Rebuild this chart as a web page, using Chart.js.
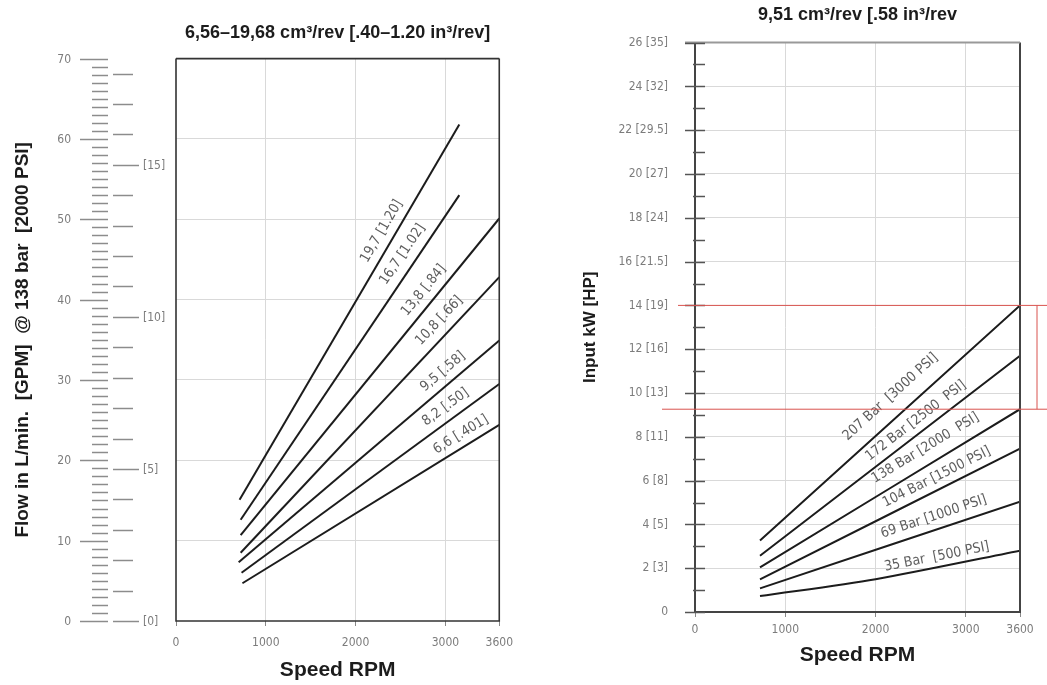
<!DOCTYPE html>
<html>
<head>
<meta charset="utf-8">
<script src="https://cdn.jsdelivr.net/npm/chart.js@4/dist/chart.umd.min.js"></script>
<style>
  body { margin: 0; background: #fff; }
  #wrap { position: relative; width: 1047px; height: 685px; overflow: hidden; }
  canvas { position: absolute; top: 0; }
  #flowChart { left: 0; }
  #powerChart { left: 520px; }
</style>
</head>
<body>
<div id="wrap">
  <canvas id="flowChart" width="523" height="685"></canvas>
  <canvas id="powerChart" width="527" height="685"></canvas>
</div>
<script>
// ---- left panel: flow vs speed, one line per displacement
const flowLabels   = ['19,7 [1.20]', '16,7 [1.02]', '13,8 [.84]', '10,8 [.66]', '9,5 [.58]', '8,2 [.50]', '6,6 [.401]'];
const flowRpmStart = [708, 720, 720, 720, 698, 730, 740];
const flowStart    = [15.1, 12.6, 10.7, 8.5, 7.3, 6.0, 4.7];
const flowRpmEnd   = [3155, 3155, 3600, 3600, 3600, 3600, 3600];
const flowEnd      = [61.8, 53.0, 50.1, 42.8, 34.9, 29.5, 24.4];
const flowLabelRpm = [2416, 2653, 2872, 3045, 3066, 3088, 3242];

const speedTicks = [0, 1000, 2000, 3000, 3600];
const flowTicks  = [0, 10, 20, 30, 40, 50, 60, 70];
const gpmTicks   = [0, 5, 10, 15];
const GPM_MAX    = 18;
const L_PER_GAL  = 3.785;

// ---- right panel: input power vs speed, one line per pressure
const powerLabels   = ['207 Bar  [3000 PSI]', '172 Bar [2500  PSI]', '138 Bar [2000  PSI]', '104 Bar [1500 PSI]', '69 Bar [1000 PSI]', '35 Bar  [500 PSI]'];
const powerRpm      = [720, 3600];
const kw207         = [3.26, 14.0];
const kw172         = [2.57, 11.7];
const kw138         = [2.04, 9.26];
const kw104         = [1.49, 7.46];
const kw69          = [1.08, 5.04];
const kw35Rpm       = [720, 2000, 3600];
const kw35          = [0.73, 1.5, 2.80];
const powerLabelRpm = [2307, 2527, 2644, 2737, 2691, 2700];
const kwTickLabels  = ['0', '2 [3]', '4 [5]', '6 [8]', '8 [11]', '10 [13]', '12 [16]', '14 [19]', '16 [21.5]', '18 [24]', '20 [27]', '22 [29.5]', '24 [32]', '26 [35]'];
const kwMarks       = [14, 9.26];

const BOLD   = "'Liberation Sans', Arial, sans-serif";
const NARROW = "'Liberation Sans Narrow', 'DejaVu Sans Condensed', 'Liberation Sans', sans-serif";
const INK    = '#1c1c1c';
const GREY   = '#7c7c7c';
const GRID   = '#d9d9d9';

const pts = (xs, ys) => xs.map((v, i) => ({ x: v, y: ys[i] }));

// labels written along each curve
const lineLabels = {
  id: 'lineLabels',
  afterDatasetsDraw(chart, args, opts) {
    const { ctx, scales: { x, y } } = chart;
    ctx.save();
    ctx.font = opts.font;
    ctx.fillStyle = opts.color;
    ctx.textAlign = 'center';
    ctx.textBaseline = 'middle';
    chart.data.datasets.forEach((ds, i) => {
      const at = opts.at[i];
      const d = ds.data;
      let k = 0;
      while (k < d.length - 2 && d[k + 1].x < at) k++;
      const x1 = x.getPixelForValue(d[k].x), y1 = y.getPixelForValue(d[k].y);
      const x2 = x.getPixelForValue(d[k + 1].x), y2 = y.getPixelForValue(d[k + 1].y);
      const t = (at - d[k].x) / (d[k + 1].x - d[k].x);
      const ang = Math.atan2(y2 - y1, x2 - x1);
      const off = opts.offset[i];
      const cx = x1 + t * (x2 - x1) + Math.sin(ang) * off;
      const cy = y1 + t * (y2 - y1) - Math.cos(ang) * off;
      ctx.save();
      ctx.translate(cx, cy);
      ctx.rotate(ang);
      ctx.fillText(ds.label, 0, 0);
      ctx.restore();
    });
    ctx.restore();
  }
};

const frame = {
  id: 'frame',
  afterDraw(chart, args, opts) {
    const { ctx, chartArea: a } = chart;
    ctx.save();
    ctx.lineWidth = opts.width;
    ctx.strokeStyle = opts.color;
    ctx.beginPath();
    ctx.moveTo(a.left, a.top); ctx.lineTo(a.left, a.bottom);
    ctx.lineTo(a.right, a.bottom); ctx.lineTo(a.right, a.top);
    ctx.stroke();
    ctx.strokeStyle = opts.topColor || opts.color;
    ctx.beginPath();
    ctx.moveTo(a.left - (opts.topExtend || 0), a.top); ctx.lineTo(a.right, a.top);
    ctx.stroke();
    ctx.restore();
  }
};

// the L/min + GPM ladder left of the flow plot
const flowLadder = {
  id: 'flowLadder',
  afterDraw(chart) {
    const { ctx, scales: { y } } = chart;
    ctx.save();
    ctx.strokeStyle = '#8c8c8c';
    ctx.lineWidth = 1.5;
    ctx.fillStyle = GREY;
    ctx.font = '12px ' + NARROW;
    ctx.textBaseline = 'middle';
    for (let v = 0; v <= 70; v++) {
      const py = Math.round(y.getPixelForValue(v)) + 0.5;
      const major = flowTicks.includes(v);
      ctx.beginPath();
      ctx.moveTo(major ? 80 : 92, py); ctx.lineTo(108, py);
      ctx.stroke();
      if (major) { ctx.textAlign = 'right'; ctx.fillText(String(v), 71, py); }
    }
    for (let g = 0; g <= GPM_MAX; g++) {
      const py = Math.round(y.getPixelForValue(g * L_PER_GAL)) + 0.5;
      const major = gpmTicks.includes(g);
      ctx.beginPath();
      ctx.moveTo(113, py); ctx.lineTo(major ? 139 : 133, py);
      ctx.stroke();
      if (major) { ctx.textAlign = 'left'; ctx.fillText('[' + g + ']', 143, py); }
    }
    ctx.restore();
  }
};

// major/minor ticks straddling the kW axis
const kwTicks = {
  id: 'kwTicks',
  afterDraw(chart) {
    const { ctx, chartArea: a, scales: { y } } = chart;
    ctx.save();
    ctx.strokeStyle = '#555';
    ctx.lineWidth = 1.5;
    for (let v = 0; v <= 26; v++) {
      const py = Math.round(y.getPixelForValue(v)) + 0.5;
      ctx.beginPath();
      ctx.moveTo(a.left - (v % 2 ? 2 : 10), py); ctx.lineTo(a.left + 10, py);
      ctx.stroke();
    }
    ctx.restore();
  }
};

const redMarks = {
  id: 'redMarks',
  afterDraw(chart) {
    const { ctx, chartArea: a, scales: { y }, width } = chart;
    const yTop = y.getPixelForValue(kwMarks[0]);
    const yBot = y.getPixelForValue(kwMarks[1]);
    ctx.save();
    ctx.strokeStyle = '#d9534f';
    ctx.lineWidth = 1;
    ctx.beginPath();
    ctx.moveTo(a.left - 17, yTop); ctx.lineTo(width, yTop);
    ctx.moveTo(a.left - 33, yBot); ctx.lineTo(width, yBot);
    ctx.moveTo(width - 10, yTop); ctx.lineTo(width - 10, yBot);
    ctx.stroke();
    ctx.restore();
  }
};

const speedAxis = (height, tickPad, titlePad) => ({
  type: 'linear', min: 0, max: 3600,
  afterBuildTicks: s => { s.ticks = speedTicks.map(v => ({ value: v })); },
  afterFit: s => { s.height = height; },
  ticks: { color: GREY, font: { size: 12, family: NARROW }, padding: tickPad, autoSkip: false, maxRotation: 0, callback: v => String(v) },
  grid: {
    color: c => (c.tick && (c.tick.value === 0 || c.tick.value === 3600)) ? 'rgba(0,0,0,0)' : GRID,
    tickColor: '#888', tickLength: 5
  },
  border: { display: false },
  title: { display: true, text: 'Speed RPM', color: INK, font: { size: 21, weight: 'bold', family: BOLD, lineHeight: 1.2 }, padding: { top: 0, bottom: titlePad } }
});

new Chart(document.getElementById('flowChart'), {
  type: 'scatter',
  data: {
    datasets: flowLabels.map((lab, i) => ({
      label: lab,
      data: [{ x: flowRpmStart[i], y: flowStart[i] }, { x: flowRpmEnd[i], y: flowEnd[i] }],
      showLine: true, borderColor: INK, borderWidth: 2, pointRadius: 0
    }))
  },
  options: {
    responsive: false,
    animation: false,
    layout: { padding: { left: 10, right: 18, top: 0, bottom: 0 } },
    plugins: {
      legend: { display: false },
      tooltip: { enabled: false },
      title: {
        display: true, fullSize: false,
        text: '6,56–19,68 cm³/rev [.40–1.20 in³/rev]',
        color: INK, font: { size: 18, weight: 'bold', family: BOLD, lineHeight: 1.2 },
        padding: { top: 22, bottom: 15 }
      },
      lineLabels: { at: flowLabelRpm, offset: [13, 14, 13, 14, 13, 13, 12], font: '14px ' + NARROW, color: '#5e5e5e' },
      frame: { width: 1.6, color: '#333' }
    },
    scales: {
      x: speedAxis(64, 10, 2),
      y: {
        min: 0, max: 70,
        afterFit: s => { s.width = 166; },
        ticks: { display: false, stepSize: 10 },
        grid: { color: c => (c.tick && (c.tick.value === 0 || c.tick.value === 70)) ? 'rgba(0,0,0,0)' : GRID, drawTicks: false },
        border: { display: false },
        title: {
          display: true, text: 'Flow in L/min.  [GPM]  @ 138 bar  [2000 PSI]',
          color: INK, font: { size: 19, weight: 'bold', family: BOLD, lineHeight: 1.2 }, padding: { top: 1 }
        }
      }
    }
  },
  plugins: [lineLabels, frame, flowLadder]
});

new Chart(document.getElementById('powerChart'), {
  type: 'scatter',
  data: {
    datasets: [
      { label: powerLabels[0], data: pts(powerRpm, kw207) },
      { label: powerLabels[1], data: pts(powerRpm, kw172) },
      { label: powerLabels[2], data: pts(powerRpm, kw138) },
      { label: powerLabels[3], data: pts(powerRpm, kw104) },
      { label: powerLabels[4], data: pts(powerRpm, kw69) },
      { label: powerLabels[5], data: pts(kw35Rpm, kw35) }
    ].map(ds => Object.assign(ds, { showLine: true, borderColor: INK, borderWidth: 2, pointRadius: 0, tension: 0.3 }))
  },
  options: {
    responsive: false,
    animation: false,
    layout: { padding: { left: 55, right: 27, top: 0, bottom: 0 } },
    plugins: {
      legend: { display: false },
      tooltip: { enabled: false },
      title: {
        display: true, fullSize: false,
        text: '9,51 cm³/rev [.58 in³/rev',
        color: INK, font: { size: 18, weight: 'bold', family: BOLD, lineHeight: 1.2 },
        padding: { top: 4, bottom: 17 }
      },
      lineLabels: { at: powerLabelRpm, offset: [19, 12, 16, 12, 13, 10], font: '14px ' + NARROW, color: '#5e5e5e' },
      frame: { width: 2, color: '#444', topColor: '#999', topExtend: 10 }
    },
    scales: {
      x: speedAxis(73, 6, 17),
      y: {
        min: 0, max: 26,
        afterFit: s => { s.width = 120; },
        ticks: { stepSize: 2, autoSkip: false, color: GREY, font: { size: 12, family: NARROW }, padding: 27, callback: (v, i) => kwTickLabels[i] },
        grid: { color: c => (c.tick && (c.tick.value === 0 || c.tick.value === 26)) ? 'rgba(0,0,0,0)' : GRID, drawTicks: false },
        border: { display: false },
        title: {
          display: true, text: 'Input kW [HP]',
          color: INK, font: { size: 17, weight: 'bold', family: BOLD, lineHeight: 1.2 }, padding: { top: 5 }
        }
      }
    }
  },
  plugins: [lineLabels, frame, kwTicks, redMarks]
});
</script>
</body>
</html>
